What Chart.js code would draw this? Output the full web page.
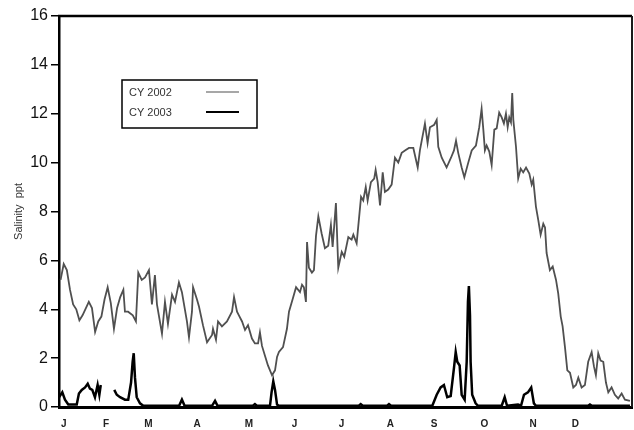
<!DOCTYPE html>
<html>
<head>
<meta charset="utf-8">
<script src="https://cdn.jsdelivr.net/npm/chart.js@4"></script>
<style>
  html, body { margin: 0; padding: 0; background: #fff; }
  canvas { display: block; }
</style>
</head>
<body>
<canvas id="c" width="634" height="430"></canvas>
<script>
// ---- data (day of year, salinity ppt) ----
const monthLabels = ['J','F','M','A','M','J','J','A','S','O','N','D'];
const monthTickDays = [3,30,57,88,121,150,180,211,239,271,302,329];
const yTickValues = [0,2,4,6,8,10,12,14,16];

const days2002 = [1,3,5,7,9,11,13,15,19,21,23,25,27,29,31,33,35,37,39,41,42,44,47,49,50.5,52.7,54.8,57.3,59.2,61.1,62.4,65.6,67.5,69.4,72,73.9,76.4,78.3,81.5,82.8,84.7,85.4,87.9,89.2,91.7,94.3,97.5,98.1,100,101.3,103.8,107,110.2,111.5,113.4,114.6,116.6,118.5,120.4,122.9,124.8,126.8,128,129.3,131.2,133.1,135.7,137.6,138.9,140.1,142.7,145.2,146.5,149,151,153.5,154.8,156,157.3,158,159.2,161.1,162.4,163.7,165.2,167.3,169.4,171.5,173.2,174.3,176.4,177.9,180.1,181.7,184.3,186.4,187.5,189.6,192.4,193.8,195.4,196.6,198.7,200.8,201.7,203,204.5,206.2,207.6,209.7,211.9,214,216.1,218.3,220.4,222.9,225.7,228.5,229.9,233.1,234.8,236.3,239,240.6,241.6,243.8,246.9,249.7,251.6,252.9,254.3,256.5,258.2,260.7,262.9,265.6,267.7,269.2,270.3,271.3,272.4,274.1,275.6,277.3,278.8,280.4,282,283.4,284.7,285.8,286.8,287.9,288.7,289.4,291.1,292.5,294.1,295.7,297.5,299.6,301.1,302.1,303.8,305.3,306.8,308.5,309.6,310.6,312.7,314.5,316.6,318,319.6,320.8,322.3,323.8,325.5,327.6,329.3,330.8,332.9,335,337.1,339.3,340.8,342,343.5,345,346.7,348.4,349.9,352,354.1,356.2,358.4,360.5,363.7];
const salinity2002 = [5.2,5.85,5.6,4.8,4.2,4.0,3.55,3.75,4.3,4.05,3.07,3.5,3.7,4.4,4.9,4.25,3.2,4.05,4.5,4.8,3.9,3.9,3.75,3.5,5.5,5.2,5.3,5.6,4.2,5.4,4.2,3.0,4.3,3.4,4.6,4.3,5.1,4.7,3.5,2.85,3.9,4.9,4.4,4.1,3.35,2.65,2.95,3.2,2.75,3.5,3.3,3.5,3.9,4.5,3.9,3.75,3.5,3.15,3.35,2.8,2.6,2.6,3.05,2.5,2.1,1.7,1.3,1.5,2.05,2.25,2.45,3.2,3.9,4.45,4.9,4.7,5.0,4.9,4.3,6.75,5.7,5.5,5.6,7.0,7.8,7.1,6.5,6.6,7.45,6.55,8.35,5.7,6.35,6.15,6.95,6.85,7.05,6.7,8.6,8.45,9.0,8.45,9.2,9.35,9.7,9.2,8.25,9.6,8.8,8.9,9.1,10.2,10.0,10.4,10.5,10.6,10.6,9.8,10.5,11.6,10.8,11.45,11.55,11.75,10.65,10.2,9.8,10.2,10.5,10.9,10.4,9.8,9.4,10.0,10.5,10.7,11.45,12.2,11.35,10.5,10.7,10.45,9.9,11.35,11.4,12.05,11.85,11.6,12.0,11.45,11.85,11.65,12.85,11.75,10.65,9.35,9.75,9.6,9.8,9.55,9.1,9.3,8.2,7.65,7.05,7.5,7.35,6.3,5.6,5.75,5.2,4.65,3.7,3.3,2.45,1.5,1.4,0.8,0.9,1.2,0.8,0.9,1.85,2.25,1.65,1.3,2.2,1.9,1.85,1.0,0.6,0.8,0.5,0.35,0.55,0.3,0.25];

const days2003 = [0,2.1,3.8,5.9,11.3,12.7,14.5,16.6,18.3,19.7,21.2,22.9,24.6,25.7,26.6,30,35.2,36.8,38.9,42,44.1,45.9,46.9,47.6,48.4,49.5,51.6,53.7,76.5,78.3,80,97.5,99.4,101,123.5,124.8,126,134.4,135.4,136.5,137.6,138.9,140,191,192.2,193.5,209,210.2,211.5,237.8,240.6,243.1,245.2,247.3,249.5,251.6,252.7,253.7,255.2,256.5,258.4,259.7,260.5,261.1,261.8,262.2,263.2,265.4,266.9,282,283.9,285.4,292.4,294.3,296.2,298.7,300.8,302.5,303.8,337,338.2,339.5,363.7];
const salinity2003 = [0.4,0.6,0.3,0.1,0.1,0.55,0.7,0.8,0.95,0.75,0.7,0.4,0.9,0.5,0.9,null,0.7,0.5,0.4,0.3,0.3,1.0,1.85,2.2,1.2,0.4,0.15,0.05,0.05,0.3,0.05,0.05,0.25,0.05,0.05,0.12,0.05,0.05,0.6,1.05,0.7,0.1,0.05,0.05,0.12,0.05,0.05,0.12,0.05,0.05,0.5,0.8,0.9,0.4,0.45,1.6,2.25,1.85,1.7,0.5,0.3,1.85,4.3,4.95,3.75,1.85,0.5,0.15,0.05,0.05,0.4,0.05,0.1,0.05,0.5,0.6,0.8,0.15,0.05,0.05,0.1,0.05,0.05];

const toPoints = (xs, ys) => xs.map((x, i) => ({ x: x, y: ys[i] }));

const framePlugin = {
  id: 'frame',
  afterDatasetsDraw(chart) {
    const { ctx, chartArea: { left, top, right, bottom } } = chart;
    ctx.save();
    ctx.strokeStyle = '#000';
    ctx.lineWidth = 2.5;
    ctx.beginPath();
    ctx.moveTo(left - 1, top);
    ctx.lineTo(right, top);
    ctx.stroke();
    ctx.strokeStyle = '#1a1a1a';
    ctx.lineWidth = 2;
    ctx.beginPath();
    ctx.moveTo(right, top);
    ctx.lineTo(right, bottom);
    ctx.stroke();
    ctx.restore();
  }
};

const boxLegend = {
  id: 'boxLegend',
  afterDraw(chart, args, opts) {
    const { ctx, chartArea } = chart;
    const x = chartArea.left + opts.dx, y = chartArea.top + opts.dy;
    ctx.save();
    ctx.fillStyle = '#fff';
    ctx.fillRect(x, y, opts.w, opts.h);
    ctx.strokeStyle = '#000';
    ctx.lineWidth = 1.5;
    ctx.strokeRect(x, y, opts.w, opts.h);
    ctx.font = '11px "Liberation Sans", Arial, sans-serif';
    ctx.textBaseline = 'middle';
    chart.data.datasets.forEach((ds, i) => {
      const cy = y + 13 + i * 20;
      ctx.fillStyle = '#333';
      ctx.fillText(ds.label, x + 7, cy);
      ctx.strokeStyle = ds.borderColor;
      ctx.lineWidth = i === 0 ? 1.2 : 2.2;
      ctx.beginPath();
      ctx.moveTo(x + 84, cy - 1);
      ctx.lineTo(x + 117, cy - 1);
      ctx.stroke();
    });
    ctx.restore();
  }
};

new Chart(document.getElementById('c'), {
  type: 'line',
  data: {
    datasets: [
      { label: 'CY 2002', data: toPoints(days2002, salinity2002), borderColor: '#505050', borderWidth: 1.8, pointRadius: 0, tension: 0, spanGaps: false },
      { label: 'CY 2003', data: toPoints(days2003, salinity2003), borderColor: '#000000', borderWidth: 2.5, pointRadius: 0, tension: 0, spanGaps: false }
    ]
  },
  options: {
    responsive: false,
    animation: false,
    devicePixelRatio: 1,
    layout: { padding: { top: 16, right: 2, left: 0, bottom: 0 } },
    plugins: {
      legend: { display: false },
      tooltip: { enabled: false },
      boxLegend: { dx: 63, dy: 64, w: 135, h: 48 }
    },
    scales: {
      x: {
        type: 'linear',
        min: 0,
        max: 365,
        afterFit: (s) => { s.height = 23; },
        afterBuildTicks: (s) => { s.ticks = monthTickDays.map(v => ({ value: v })); },
        grid: { display: false, drawTicks: false },
        border: { display: true, color: '#000', width: 3 },
        ticks: {
          autoSkip: false,
          maxRotation: 0,
          padding: 11,
          color: '#222',
          font: { family: '"Liberation Sans", Arial, sans-serif', size: 10, weight: 'bold' },
          callback: (v, i) => monthLabels[i]
        }
      },
      y: {
        min: 0,
        max: 16,
        afterFit: (s) => { s.width = 59; },
        afterBuildTicks: (s) => { s.ticks = yTickValues.map(v => ({ value: v })); },
        grid: { display: true, drawOnChartArea: false, drawTicks: true, tickLength: 8, color: '#000', lineWidth: 1.5 },
        border: { display: true, color: '#000', width: 2.5 },
        ticks: {
          padding: 3,
          color: '#111',
          font: { family: '"Liberation Sans Narrow", "Liberation Sans", Arial, sans-serif', size: 16 }
        },
        title: {
          display: true,
          text: 'Salinity  ppt',
          color: '#333',
          padding: { top: 12, bottom: 0 },
          font: { family: '"Liberation Sans", Arial, sans-serif', size: 11 }
        }
      }
    }
  },
  plugins: [framePlugin, boxLegend]
});
</script>
</body>
</html>
